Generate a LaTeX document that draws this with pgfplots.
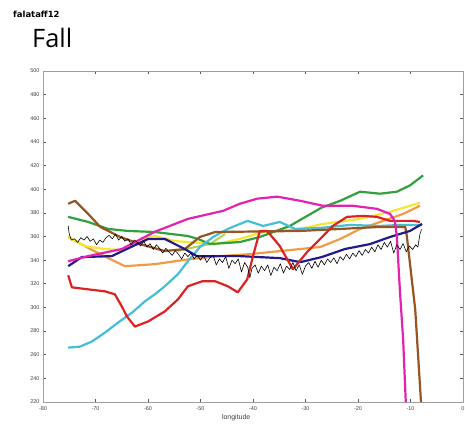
\documentclass[border=0pt]{standalone}
\usepackage{pgfplots}
\pgfplotsset{compat=1.18}
\usepackage{fontspec}
\setmainfont{Liberation Sans}
\newfontfamily\titlefont{Open Sans}
\newfontfamily\tagfont{DejaVu Sans}

\definecolor{lgreen}{RGB}{50,160,60}
\definecolor{lbrown}{RGB}{150,85,35}
\definecolor{lmagenta}{RGB}{225,35,175}
\definecolor{lnavy}{RGB}{35,25,140}
\definecolor{lred}{RGB}{220,35,35}
\definecolor{lcyan}{RGB}{70,190,215}
\definecolor{lyellow}{RGB}{245,230,50}
\definecolor{lorange}{RGB}{240,155,70}
\definecolor{llime}{RGB}{170,215,80}

\begin{document}
\begin{tikzpicture}
\path[use as bounding box] (0,0) rectangle (465bp,429bp);
\node[anchor=base west, font=\tagfont\bfseries\fontsize{8.5}{9}\selectfont, inner sep=0pt] at (13bp,411bp) {falataff12};
\node[anchor=base west, font=\titlefont\fontsize{25.5}{28}\selectfont, inner sep=0pt] at (32bp,381bp) {Fall};
\begin{axis}[
  at={(43bp,27bp)}, anchor=south west,
  scale only axis, width=420bp, height=331bp,
  xmin=-80, xmax=0, ymin=220, ymax=500,
  xtick={-80,-70,...,0}, ytick={220,240,...,500},
  tick align=inside, major tick length=3bp,
  tick style={gray!70!black, line width=0.6pt},
  axis line style={gray!75, line width=0.8pt},
  /pgf/number format/assume math mode=true,
  tick label style={font=\fontsize{5.5}{6}\selectfont, text=gray!50!black},
  xticklabel style={yshift=-1bp},
  xlabel={longitude},
  xlabel style={font=\fontsize{7}{8}\selectfont, text=gray!50!black, at={(axis description cs:0.46,0)}, anchor=north, yshift=-9bp},
  clip=true,
  line join=round,
]
% light orange
\addplot[lorange, line width=2.2bp] coordinates {
(-75.2,359.6)(-71.0,349.4)(-67.2,340.9)(-64.4,334.9)(-58.7,336.6)(-52.0,340.9)
(-46.3,343.4)(-40.6,345.1)(-31.0,349.4)(-27.2,351.1)(-23.4,357.9)(-19.6,366.4)
(-15.8,372.3)(-11.4,379.1)(-8.2,386.0)};
% yellow
\addplot[lyellow, line width=2.2bp] coordinates {
(-75.2,359.6)(-72.0,351.9)(-68.2,349.4)(-65.0,348.5)(-61.1,357.9)(-58.7,360.4)
(-54.9,356.2)(-52.4,355.3)(-47.2,353.6)(-42.5,357.9)(-38.1,363.8)(-31.0,366.4)
(-26.7,370.6)(-19.6,374.9)(-13.9,380.9)(-8.2,388.5)};
% lime
\addplot[llime, line width=2.0bp] coordinates {
(-54.3,347.7)(-51.0,351.1)(-48.2,353.6)(-45.3,362.1)};
% green
\addplot[lgreen, line width=2.2bp] coordinates {
(-75.2,376.6)(-71.4,372.3)(-67.6,366.4)(-63.8,364.7)(-58.7,363.8)(-52.4,360.4)
(-50.5,358.0)(-48.2,353.6)(-42.5,355.3)(-38.7,359.6)(-33.0,368.9)(-27.0,384.3)
(-23.4,390.2)(-19.6,397.9)(-15.8,396.2)(-12.6,397.9)(-10.1,403.2)(-7.6,411.7)};
% cyan
\addplot[lcyan, line width=2.2bp] coordinates {
(-75.2,266.0)(-73.0,266.8)(-70.7,271.1)(-68.2,278.7)(-65.7,287.2)(-63.0,295.7)
(-60.6,305.1)(-58.7,311.1)(-56.8,317.9)(-54.3,328.1)(-52.4,339.1)(-50.1,351.1)
(-47.6,359.6)(-44.8,366.4)(-42.5,370.6)(-41.0,373.2)(-38.1,368.9)(-34.9,372.3)
(-32.0,366.4)(-27.2,367.2)(-21.5,369.8)(-15.8,368.9)(-12.0,369.8)(-7.8,369.8)};
% brown
\addplot[lbrown, line width=2.2bp] coordinates {
(-75.2,387.7)(-73.9,390.2)(-71.4,379.1)(-69.1,368.1)(-65.3,359.6)(-61.5,353.6)
(-56.8,347.7)(-53.0,349.4)(-50.1,359.6)(-47.2,363.8)(-31.0,364.7)(-15.8,368.1)
(-11.0,368.1)(-10.7,360.4)(-9.1,298.3)(-8.0,220)};
% navy
\addplot[lnavy, line width=2.2bp] coordinates {
(-75.2,334.9)(-72.6,342.6)(-66.9,343.4)(-60.0,357.9)(-56.8,357.9)(-53.0,349.4)
(-50.7,343.4)(-42.5,343.4)(-34.9,341.7)(-31.0,338.3)(-26.9,342.6)(-22.5,349.4)
(-17.7,353.6)(-13.9,359.6)(-10.1,364.7)(-7.8,370.6)};
% red
\addplot[lred, line width=2.2bp] coordinates {
(-75.2,327.2)(-74.5,317.0)(-71.4,315.3)(-68.2,313.6)(-66.3,311.1)(-65.0,300.9)
(-64.0,292.3)(-62.5,283.8)(-60.0,288.1)(-56.8,296.6)(-54.3,306.8)(-52.4,317.9)
(-49.7,322.1)(-47.2,322.1)(-44.8,317.9)(-42.9,312.8)(-41.1,323.8)(-40.0,343.4)
(-38.7,364.7)(-37.3,364.7)(-34.9,351.9)(-32.4,332.3)(-29.7,346.8)(-27.2,357.9)
(-24.8,368.9)(-22.1,376.6)(-19.0,377.4)(-16.4,376.6)(-13.9,373.2)(-9.5,373.2)
(-8.2,372.3)};
% magenta
\addplot[lmagenta, line width=2.2bp] coordinates {
(-75.2,339.1)(-71.4,343.4)(-65.0,349.4)(-58.7,364.0)(-52.4,374.9)(-45.7,381.7)
(-42.5,387.7)(-39.2,392.0)(-35.4,393.7)(-31.0,390.2)(-26.7,386.0)(-21.0,386.0)
(-16.4,383.4)(-13.9,379.1)(-13.0,373.2)(-12.6,360.4)(-12.0,312.8)(-11.4,272.8)
(-10.9,220)};
% observed profile
\addplot[black, line width=0.6bp] coordinates {
(-75.2,369)(-75.0,362)(-74.6,357)(-74.0,358)(-73.4,355)(-72.8,359)(-72.2,357)
(-71.6,360)(-71.0,356)(-70.4,358)(-69.8,353)(-69.2,357)(-68.6,355)(-68.0,359)
(-67.4,361)(-66.8,358)(-66.2,362)(-65.6,357)(-65.0,360)(-64.4,356)(-63.8,358)
(-63.2,353)(-62.6,357)(-62.0,355)(-61.4,352)(-60.8,356)(-60.2,351)(-59.6,354)
(-59.0,349)(-58.4,353)(-57.8,350)(-57.2,346)(-56.6,350)(-56.0,347)(-55.4,344)
(-54.8,348)(-54.2,345)(-53.6,341)(-53.0,346)(-52.4,343)(-51.8,346)(-51.2,341)
(-50.6,344)(-50.0,340)(-49.4,344)(-48.8,338)(-48.2,342)(-47.6,344)(-47.0,336)
(-46.4,341)(-45.8,338)(-45.2,343)(-44.6,333)(-44.0,340)(-43.4,337)(-42.8,341)
(-42.2,330)(-41.6,338)(-41.0,334)(-40.6,325)(-40.2,333)(-39.6,336)(-39.0,329)
(-38.4,335)(-37.8,331)(-37.2,336)(-36.6,327)(-36.0,334)(-35.4,331)(-34.8,337)
(-34.2,329)(-33.6,335)(-33.0,332)(-32.4,338)(-31.8,331)(-31.2,336)(-30.6,328)
(-30.0,335)(-29.4,338)(-28.8,333)(-28.2,339)(-27.6,334)(-27.0,340)(-26.4,336)
(-25.8,341)(-25.2,338)(-24.6,342)(-24.0,337)(-23.4,343)(-22.8,340)(-22.2,345)
(-21.6,341)(-21.0,346)(-20.4,343)(-19.8,348)(-19.2,344)(-18.6,349)(-18.0,346)
(-17.4,351)(-16.8,347)(-16.2,353)(-15.6,349)(-15.0,355)(-14.4,351)(-13.8,356)
(-13.2,346)(-12.6,353)(-12.0,349)(-11.4,354)(-10.8,347)(-10.2,352)(-9.6,349)
(-9.0,353)(-8.6,351)(-8.2,362)(-7.9,366)};
\end{axis}
\end{tikzpicture}
\end{document}
